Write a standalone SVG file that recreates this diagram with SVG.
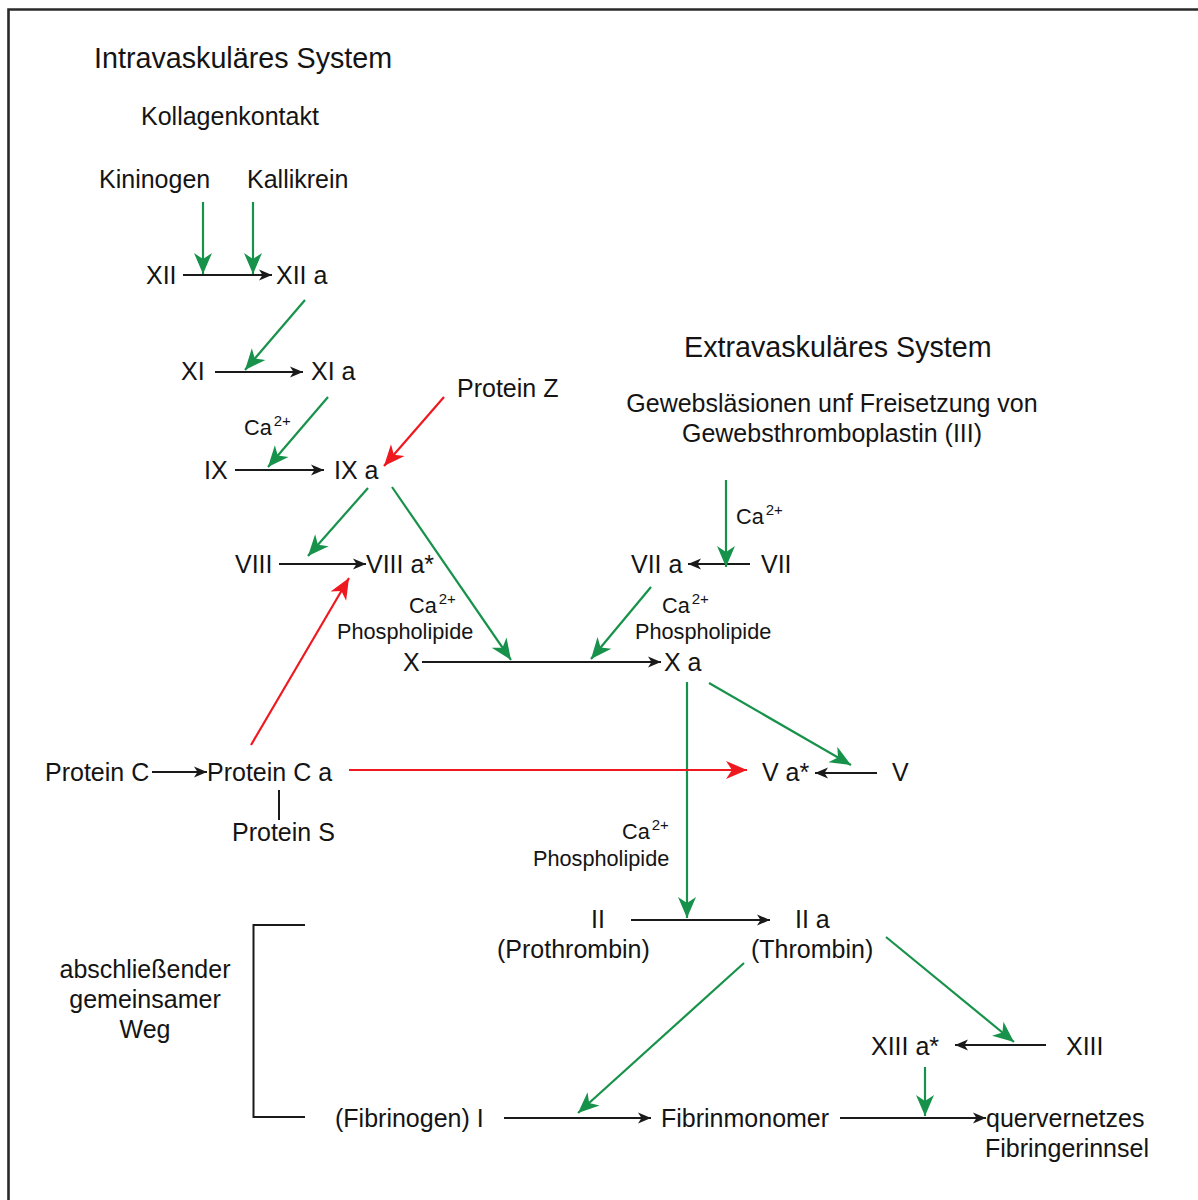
<svg xmlns="http://www.w3.org/2000/svg" width="1198" height="1200" viewBox="0 0 1198 1200">
<defs>
<style>
text{font-family:"Liberation Sans",Arial,sans-serif;fill:#141414}
.t{font-size:28.7px}
.n{font-size:25px}
.s{font-size:21.7px}
.sup{font-size:15px}
.k{stroke:#1a1a1a;stroke-width:2;fill:none}
.g{stroke:#17924a;stroke-width:2.2;fill:none}
.r{stroke:#f0181f;stroke-width:2.2;fill:none}
</style>
<marker id="mk" markerUnits="userSpaceOnUse" viewBox="-14 -7 16 14" markerWidth="16" markerHeight="14" refX="0" refY="0" orient="auto">
<path d="M0,0 L-13,-5.5 L-9.5,0 L-13,5.5 Z" fill="#1a1a1a"/>
</marker>
<marker id="mg" markerUnits="userSpaceOnUse" viewBox="-22 -10 24 20" markerWidth="24" markerHeight="20" refX="0" refY="0" orient="auto">
<path d="M0,0 L-21,-9 L-15,0 L-21,9 Z" fill="#17924a"/>
</marker>
<marker id="mr" markerUnits="userSpaceOnUse" viewBox="-22 -10 24 20" markerWidth="24" markerHeight="20" refX="0" refY="0" orient="auto">
<path d="M0,0 L-21,-9 L-15,0 L-21,9 Z" fill="#f0181f"/>
</marker>
</defs>
<rect width="1198" height="1200" fill="#ffffff"/>
<path d="M8.5,1200 V9.5 H1198" stroke="#2a2a2a" stroke-width="2.6" fill="none"/>

<g id="connectors">
<line class="k" x1="183" y1="275" x2="272" y2="275" marker-end="url(#mk)"/>
<line class="k" x1="215" y1="372" x2="303" y2="372" marker-end="url(#mk)"/>
<line class="k" x1="235" y1="470" x2="324" y2="470" marker-end="url(#mk)"/>
<line class="k" x1="279" y1="564" x2="366" y2="564" marker-end="url(#mk)"/>
<line class="k" x1="422" y1="662" x2="661" y2="662" marker-end="url(#mk)"/>
<line class="k" x1="750" y1="564" x2="688" y2="564" marker-end="url(#mk)"/>
<line class="k" x1="152" y1="772" x2="207" y2="772" marker-end="url(#mk)"/>
<line class="k" x1="877" y1="773" x2="815" y2="773" marker-end="url(#mk)"/>
<line class="k" x1="279" y1="790" x2="279" y2="820"/>
<line class="k" x1="631" y1="920" x2="770" y2="920" marker-end="url(#mk)"/>
<line class="k" x1="1046" y1="1045" x2="955" y2="1045" marker-end="url(#mk)"/>
<line class="k" x1="504" y1="1118" x2="651" y2="1118" marker-end="url(#mk)"/>
<line class="k" x1="840" y1="1118" x2="986" y2="1118" marker-end="url(#mk)"/>
<path class="k" d="M305,925 H253.5 V1117 H305"/>
<line class="g" x1="203" y1="202" x2="203" y2="274" marker-end="url(#mg)"/>
<line class="g" x1="253" y1="202" x2="253" y2="274" marker-end="url(#mg)"/>
<line class="g" x1="305" y1="300" x2="245" y2="370" marker-end="url(#mg)"/>
<line class="g" x1="328" y1="397" x2="268" y2="467" marker-end="url(#mg)"/>
<line class="g" x1="368" y1="488" x2="308" y2="556" marker-end="url(#mg)"/>
<line class="g" x1="392" y1="487" x2="511" y2="660" marker-end="url(#mg)"/>
<line class="g" x1="726" y1="480" x2="726" y2="567" marker-end="url(#mg)"/>
<line class="g" x1="651" y1="587" x2="591" y2="659" marker-end="url(#mg)"/>
<line class="g" x1="709" y1="683" x2="851" y2="765" marker-end="url(#mg)"/>
<line class="g" x1="687" y1="682" x2="687" y2="918" marker-end="url(#mg)"/>
<line class="g" x1="886" y1="937" x2="1014" y2="1042" marker-end="url(#mg)"/>
<line class="g" x1="744" y1="963" x2="578" y2="1113" marker-end="url(#mg)"/>
<line class="g" x1="925" y1="1067" x2="925" y2="1116" marker-end="url(#mg)"/>
<line class="r" x1="444" y1="397" x2="384" y2="466" marker-end="url(#mr)"/>
<line class="r" x1="251" y1="745" x2="349" y2="578" marker-end="url(#mr)"/>
<line class="r" x1="349" y1="770" x2="747" y2="770" marker-end="url(#mr)"/>
</g>

<g id="title-intra"><text class="t" x="94" y="68">Intravaskuläres System</text></g>
<g id="kollagenkontakt"><text class="n" x="141" y="125">Kollagenkontakt</text></g>
<g id="kininogen"><text class="n" x="99" y="188">Kininogen</text></g>
<g id="kallikrein"><text class="n" x="247" y="188">Kallikrein</text></g>
<g id="xii"><text class="n" x="146" y="284">XII</text></g>
<g id="xiia"><text class="n" x="276" y="284">XII a</text></g>
<g id="xi"><text class="n" x="181" y="380">XI</text></g>
<g id="xia"><text class="n" x="311" y="380">XI a</text></g>
<g id="protein-z"><text class="n" x="457" y="397">Protein Z</text></g>
<g id="ca-ix"><text class="s" x="244" y="435">Ca<tspan class="sup" dx="2" dy="-9">2+</tspan></text></g>
<g id="ix"><text class="n" x="204" y="479">IX</text></g>
<g id="ixa"><text class="n" x="334" y="479">IX a</text></g>
<g id="viii"><text class="n" x="235" y="573">VIII</text></g>
<g id="viiia"><text class="n" x="366" y="573">VIII a*</text></g>
<g id="cofactor-x1"><text class="s" x="409" y="613">Ca<tspan class="sup" dx="2" dy="-9">2+</tspan></text><text class="s" x="337" y="639">Phospholipide</text></g>
<g id="x"><text class="n" x="403" y="671">X</text></g>
<g id="xa"><text class="n" x="664" y="671">X a</text></g>
<g id="title-extra"><text class="t" x="684" y="357">Extravaskuläres System</text></g>
<g id="gewebslaesionen"><text class="n" x="832" y="412" text-anchor="middle">Gewebsläsionen unf Freisetzung von</text><text class="n" x="832" y="442" text-anchor="middle">Gewebsthromboplastin (III)</text></g>
<g id="ca-vii"><text class="s" x="736" y="524">Ca<tspan class="sup" dx="2" dy="-9">2+</tspan></text></g>
<g id="viia"><text class="n" x="631" y="573">VII a</text></g>
<g id="vii"><text class="n" x="761" y="573">VII</text></g>
<g id="cofactor-x2"><text class="s" x="662" y="613">Ca<tspan class="sup" dx="2" dy="-9">2+</tspan></text><text class="s" x="635" y="639">Phospholipide</text></g>
<g id="protein-c"><text class="n" x="45" y="781">Protein C</text></g>
<g id="protein-ca"><text class="n" x="207" y="781">Protein C a</text></g>
<g id="protein-s"><text class="n" x="232" y="841">Protein S</text></g>
<g id="va"><text class="n" x="762" y="781">V a*</text></g>
<g id="v"><text class="n" x="892" y="781">V</text></g>
<g id="cofactor-ii"><text class="s" x="622" y="839">Ca<tspan class="sup" dx="2" dy="-9">2+</tspan></text><text class="s" x="533" y="866">Phospholipide</text></g>
<g id="ii"><text class="n" x="591" y="928">II</text><text class="n" x="497" y="958">(Prothrombin)</text></g>
<g id="iia"><text class="n" x="795" y="928">II a</text><text class="n" x="751" y="958">(Thrombin)</text></g>
<g id="gemeinsamer-weg"><text class="n" x="145" y="978" text-anchor="middle">abschließender</text><text class="n" x="145" y="1008" text-anchor="middle">gemeinsamer</text><text class="n" x="145" y="1038" text-anchor="middle">Weg</text></g>
<g id="xiiia"><text class="n" x="871" y="1055">XIII a*</text></g>
<g id="xiii"><text class="n" x="1066" y="1055">XIII</text></g>
<g id="fibrinogen"><text class="n" x="335" y="1127">(Fibrinogen) I</text></g>
<g id="fibrinmonomer"><text class="n" x="661" y="1127">Fibrinmonomer</text></g>
<g id="fibringerinnsel"><text class="n" x="986" y="1127">quervernetzes</text><text class="n" x="985" y="1157">Fibringerinnsel</text></g>
</svg>
